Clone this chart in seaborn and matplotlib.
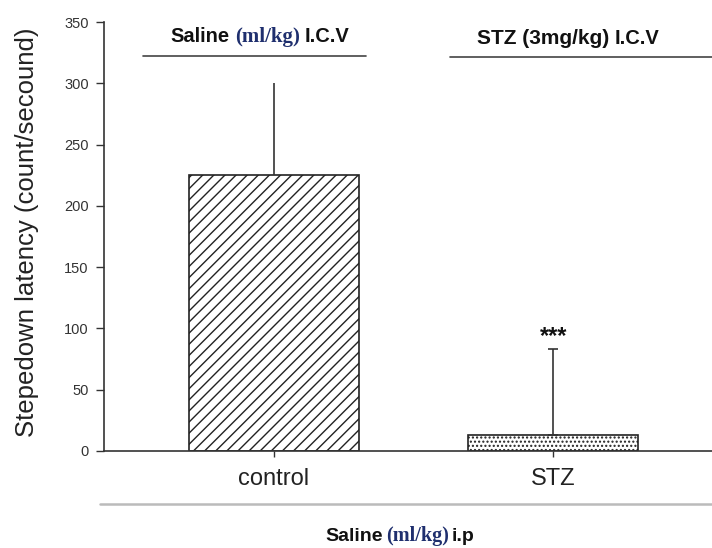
import matplotlib
matplotlib.use("Agg")
import matplotlib.pyplot as plt
import seaborn as sns
import pandas as pd

groups = ["control", "STZ"]
means = [225, 13]
errors = [75, 70]
ylabel = "Stepedown latency (count/secound)"
yticks = [0, 50, 100, 150, 200, 250, 300, 350]

sns.set_theme(style="white")
plt.rcParams['font.family'] = ['Liberation Sans', 'DejaVu Sans']
plt.rcParams['hatch.linewidth'] = 1.0

W, H = 712, 548
fig = plt.figure(figsize=(W/100, H/100), dpi=100)
ax = fig.add_axes([104/W, (H-451)/H, 1-104/W, (451-22)/H])

df = pd.DataFrame({"group": groups, "value": means})
sns.barplot(data=df, x="group", y="value", ax=ax, width=0.607,
            color="white", edgecolor="#222222", linewidth=1.2, errorbar=None)
hatches = ["///", "...."]
for p, h in zip(ax.patches, hatches):
    p.set_hatch(h)

for i, (m, e) in enumerate(zip(means, errors)):
    ax.errorbar(i, m, yerr=[[0], [e]], fmt="none", ecolor="#333333",
                elinewidth=1.2, capsize=(0 if i == 0 else 3.5), capthick=1.2)
ax.text(1, means[1] + errors[1] + 5, "***", ha="center", va="baseline",
        fontsize=17, fontweight="bold", color="#111111")

ax.set_xlim(-0.607, 1.568)
ax.set_ylim(0, 350)
ax.set_yticks(yticks)
ax.set_yticklabels([str(t) for t in yticks], fontsize=10.5, color="#333333")
ax.tick_params(axis="y", direction="out", length=6, width=1, color="#333333", left=True, pad=5)
ax.tick_params(axis="x", direction="out", length=4, width=1, color="#333333", bottom=True,
               labelsize=17, pad=8, labelcolor="#222222")
ax.set_xlabel("")
ax.set_ylabel(ylabel, fontsize=18.5, color="#222222")
ax.yaxis.set_label_coords(-(104 - 39) / (W - 104), 0.51)
for s in ["top", "right"]:
    ax.spines[s].set_visible(False)
for s in ["left", "bottom"]:
    ax.spines[s].set_color("#333333")
    ax.spines[s].set_linewidth(1.2)

# composite labels
fig.canvas.draw()
renderer = fig.canvas.get_renderer()
bold = dict(family=['Liberation Sans', 'DejaVu Sans'], fontweight="bold", color="#111111")
serif = dict(family=['Liberation Serif', 'DejaVu Serif'], fontweight="bold", color="#1f2f6e")

def composite(parts, cx, cy, gap=3):
    texts = []
    for s, props, size in parts:
        t = fig.text(0, 0, s, fontsize=size, va="baseline", ha="left", **props)
        texts.append(t)
    widths = [t.get_window_extent(renderer).width for t in texts]
    total = sum(widths) + gap * (len(texts) - 1)
    x = cx - total / 2
    for t, w in zip(texts, widths):
        t.set_position((x / W, cy / H))
        x += w + gap

composite([("Saline", bold, 14.5), ("(ml/kg)", serif, 15), ("I.C.V", bold, 14.5)], 260, H - 42, gap=5)
composite([("STZ (3mg/kg)", bold, 15), ("I.C.V", bold, 14.5)], 568, H - 44, gap=5)
composite([("Saline", bold, 14), ("(ml/kg)", serif, 14.5), ("i.p", bold, 14)], 400, H - 541, gap=3)

fig.add_artist(plt.Line2D([143/W, 366/W], [(H-56)/H]*2, color="#444444", lw=1.2))
fig.add_artist(plt.Line2D([450/W, 712/W], [(H-57)/H]*2, color="#444444", lw=1.2))
fig.add_artist(plt.Line2D([100/W, 712/W], [(H-504)/H]*2, color="#bbbbbb", lw=1.8))

fig.savefig("out.png", dpi=100)
